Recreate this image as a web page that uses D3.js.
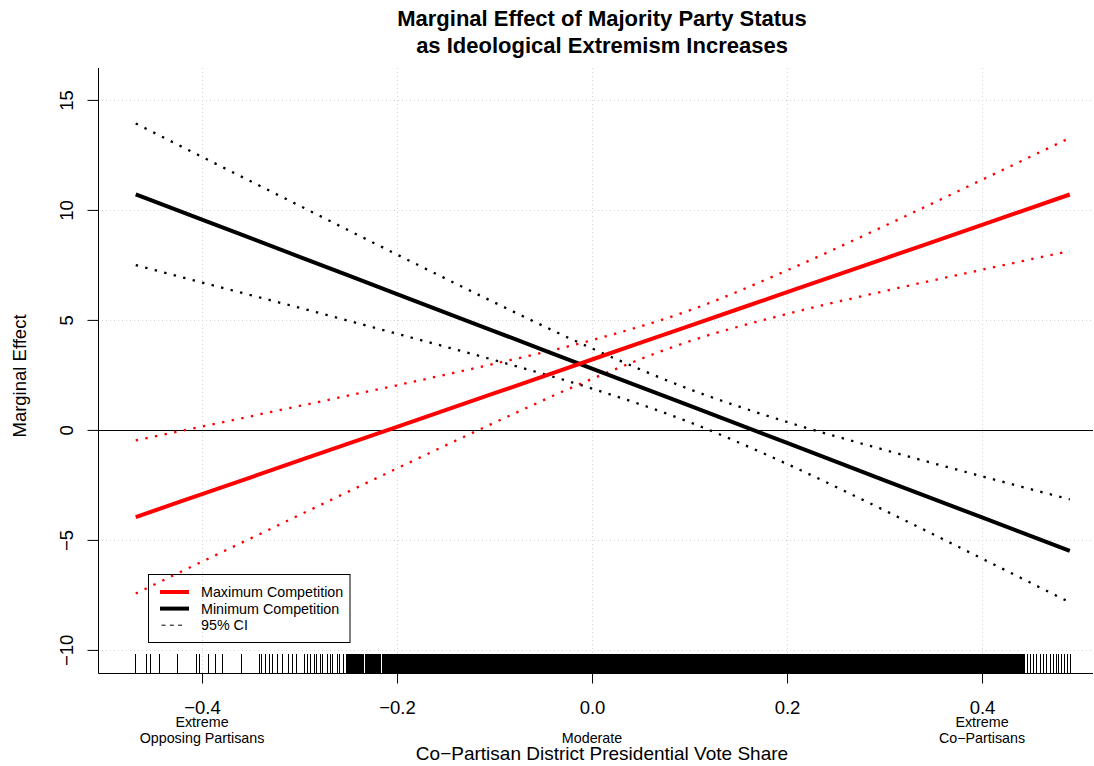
<!DOCTYPE html>
<html>
<head>
<meta charset="utf-8">
<script src="https://cdn.jsdelivr.net/npm/d3@7"></script>
<style>
  html, body { margin: 0; padding: 0; background: #fff; }
  svg { display: block; font-family: "Liberation Sans", Arial, Helvetica, sans-serif; }
</style>
</head>
<body>
<svg id="chart" width="1094" height="766"></svg>
<script>
// ---------------- data ----------------
const titleLines = ["Marginal Effect of Majority Party Status", "as Ideological Extremism Increases"];
const xLabel = "Co\u2212Partisan District Presidential Vote Share";
const yLabel = "Marginal Effect";

const xTicks = [-0.4, -0.2, 0.0, 0.2, 0.4];
const yTicks = [-10, -5, 0, 5, 10, 15];
const xSubLabels = [
  { x: -0.4, top: "Extreme", bottom: "Opposing Partisans" },
  { x: 0.0, top: "", bottom: "Moderate" },
  { x: 0.4, top: "Extreme", bottom: "Co\u2212Partisans" }
];

// co-partisan district presidential vote share (evaluation points)
const voteShare = [-0.468, -0.4, -0.3, -0.2, -0.1, 0.0, 0.1, 0.2, 0.3, 0.4, 0.49];

// Maximum competition (red)
const maxME    = [-3.96, -2.92, -1.39, 0.14, 1.67, 3.20, 4.73, 6.26, 7.79, 9.32, 10.70];
const maxUpper = [-0.48, 0.15, 1.09, 2.03, 3.01, 4.08, 5.43, 7.25, 9.27, 11.37, 13.27];
const maxLower = [-7.44, -5.99, -3.87, -1.75, 0.33, 2.32, 4.03, 5.27, 6.31, 7.28, 8.13];

// Minimum competition (black)
const minME    = [10.71, 9.56, 7.87, 6.17, 4.48, 2.79, 1.10, -0.59, -2.29, -3.98, -5.50];
const minUpper = [13.93, 12.41, 10.19, 7.97, 5.79, 3.70, 1.85, 0.36, -0.91, -2.11, -3.16];
const minLower = [7.49, 6.70, 5.55, 4.37, 3.17, 1.88, 0.35, -1.55, -3.66, -5.85, -7.84];

// rug: observed vote shares (sparse tails)
const rugLeft = [-0.4680, -0.4574, -0.4530, -0.4434, -0.4253, -0.4059, -0.4026, -0.3938, -0.3867,
  -0.3792, -0.3593, -0.3412, -0.3385, -0.3354, -0.3313, -0.3277, -0.3224, -0.3179, -0.3115, -0.3077,
  -0.3036, -0.2944, -0.2920, -0.2892, -0.2851, -0.2824, -0.2790, -0.2762, -0.2715, -0.2687, -0.2659,
  -0.2612, -0.2585, -0.2551];
const rugRight = [0.4462, 0.4492, 0.4523, 0.4554, 0.4595, 0.4626, 0.4664, 0.4697, 0.4728, 0.4759,
  0.4783, 0.4817, 0.4841, 0.4872, 0.4903];
// rug: dense middle (in thousandths of vote share)
const rugDenseMilli = [
-252,-251,-250,-249,-248,-247,-246,-245,-244,-243,-242,-241,-240,-239,-238,-237,-236,-235,-234,-232,
-231,-230,-229,-228,-227,-226,-225,-224,-223,-222,-221,-220,-219,-218,-217,-215,-214,-213,-212,-211,
-210,-209,-208,-207,-206,-205,-204,-203,-202,-201,-200,-198,-197,-196,-195,-194,-193,-192,-191,-190,
-189,-188,-187,-186,-185,-184,-183,-182,-181,-180,-179,-178,-177,-176,-175,-174,-173,-172,-171,-170,
-169,-168,-167,-166,-165,-164,-163,-162,-161,-160,-159,-158,-157,-156,-155,-154,-153,-152,-151,-150,
-149,-148,-147,-146,-145,-144,-143,-142,-141,-140,-139,-138,-137,-136,-135,-134,-133,-132,-131,-130,
-129,-128,-127,-126,-125,-124,-123,-122,-121,-120,-119,-118,-117,-116,-115,-114,-113,-112,-111,-110,
-109,-108,-107,-106,-105,-104,-103,-102,-101,-100,-99,-98,-97,-96,-95,-94,-93,-92,-91,-90,
-89,-88,-87,-86,-85,-84,-83,-82,-81,-80,-79,-78,-77,-76,-75,-74,-73,-72,-71,-70,
-69,-68,-67,-66,-65,-64,-63,-62,-61,-60,-59,-58,-57,-56,-55,-54,-53,-52,-51,-50,
-49,-48,-47,-46,-45,-44,-43,-42,-41,-40,-39,-38,-37,-36,-35,-34,-33,-32,-31,-30,
-29,-28,-27,-26,-25,-24,-23,-22,-21,-20,-19,-18,-17,-16,-15,-14,-13,-12,-11,-10,
-9,-8,-7,-6,-5,-4,-3,-2,-1,0,1,2,3,4,5,6,7,8,9,10,
11,12,13,14,15,16,17,18,19,20,21,22,23,24,25,26,27,28,29,30,
31,32,33,34,35,36,37,38,39,40,41,42,43,44,45,46,47,48,49,50,
51,52,53,54,55,56,57,58,59,60,61,62,63,64,65,66,67,68,69,70,
71,72,73,74,75,76,77,78,79,80,81,82,83,84,85,86,87,88,89,90,
91,92,93,94,95,96,97,98,99,100,101,102,103,104,105,106,107,108,109,110,
111,112,113,114,115,116,117,118,119,120,121,122,123,124,125,126,127,128,129,130,
131,132,133,134,135,136,137,138,139,140,141,142,143,144,145,146,147,148,149,150,
151,152,153,154,155,156,157,158,159,160,161,162,163,164,165,166,167,168,169,170,
171,172,173,174,175,176,177,178,179,180,181,182,183,184,185,186,187,188,189,190,
191,192,193,194,195,196,197,198,199,200,201,202,203,204,205,206,207,208,209,210,
211,212,213,214,215,216,217,218,219,220,221,222,223,224,225,226,227,228,229,230,
231,232,233,234,235,236,237,238,239,240,241,242,243,244,245,246,247,248,249,250,
251,252,253,254,255,256,257,258,259,260,261,262,263,264,265,266,267,268,269,270,
271,272,273,274,275,276,277,278,279,280,281,282,283,284,285,286,287,288,289,290,
291,292,293,294,295,296,297,298,299,300,301,302,303,304,305,306,307,308,309,310,
311,312,313,314,315,316,317,318,319,320,321,322,323,324,325,326,327,328,329,330,
331,332,333,334,335,336,337,338,339,340,341,342,343,344,345,346,347,348,349,350,
351,352,353,354,355,356,357,358,359,360,361,362,363,364,365,366,367,368,369,370,
371,372,373,374,375,376,377,378,379,380,381,382,383,384,385,386,387,388,389,390,
391,392,393,394,395,396,397,398,399,400,401,402,403,404,405,406,407,408,409,410,
411,412,413,414,415,416,417,418,419,420,421,422,423,424,425,426,427,428,429,430,
431,432,433,434,435,436,437,438,439,440,441,442,443,444
];

const legendLabels = ["Maximum Competition", "Minimum Competition", "95% CI"];

// ---------------- drawing ----------------
const svg = d3.select("#chart");
const plot = { left: 98, right: 1093, top: 68, bottom: 673 };

const x = d3.scaleLinear().domain([-0.5067, 0.5138]).range([plot.left, plot.right]);
const y = d3.scaleLinear().domain([-11.05, 16.45]).range([plot.bottom, plot.top]);

const font = '"Liberation Sans", Arial, Helvetica, sans-serif';

// grid
const grid = svg.append("g").attr("stroke", "#d3d3d3").attr("stroke-width", 1).attr("stroke-dasharray", "1,3");
grid.selectAll("line.gx").data(xTicks).join("line")
  .attr("x1", d => Math.round(x(d)) + 0.5).attr("x2", d => Math.round(x(d)) + 0.5)
  .attr("y1", plot.top).attr("y2", plot.bottom);
grid.selectAll("line.gy").data(yTicks.filter(d => d !== 0)).join("line")
  .attr("y1", d => Math.round(y(d)) + 0.5).attr("y2", d => Math.round(y(d)) + 0.5)
  .attr("x1", plot.left).attr("x2", plot.right);

// zero reference line
svg.append("line")
  .attr("x1", plot.left).attr("x2", plot.right)
  .attr("y1", Math.round(y(0)) + 0.5).attr("y2", Math.round(y(0)) + 0.5)
  .attr("stroke", "#000").attr("stroke-width", 1);

// lines
const pts = vals => voteShare.map((v, i) => [v, vals[i]]);
const line = d3.line().x(d => x(d[0])).y(d => y(d[1])).curve(d3.curveMonotoneX);

const ciStyle = { width: 2.3, dash: "2.4,7.4" };
[[minUpper, "#000"], [minLower, "#000"], [maxUpper, "#ff0000"], [maxLower, "#ff0000"]].forEach(([vals, col]) => {
  svg.append("path").attr("d", line(pts(vals)))
    .attr("fill", "none").attr("stroke", col)
    .attr("stroke-width", ciStyle.width).attr("stroke-dasharray", ciStyle.dash);
});
svg.append("path").attr("d", line(pts(minME)))
  .attr("fill", "none").attr("stroke", "#000").attr("stroke-width", 4);
svg.append("path").attr("d", line(pts(maxME)))
  .attr("fill", "none").attr("stroke", "#ff0000").attr("stroke-width", 4);

// rug
const rugValues = rugLeft.concat(rugDenseMilli.map(d => d / 1000), rugRight);
svg.append("g").attr("shape-rendering", "crispEdges")
  .selectAll("line").data(rugValues).join("line")
  .attr("x1", d => x(d)).attr("x2", d => x(d))
  .attr("y1", plot.bottom - 19).attr("y2", plot.bottom)
  .attr("stroke", "#000").attr("stroke-width", 1);

// box (L shape)
svg.append("path")
  .attr("d", `M${plot.left + 0.5},${plot.top}V${plot.bottom + 0.5}H${plot.right}`)
  .attr("fill", "none").attr("stroke", "#000").attr("stroke-width", 1);

// x axis
const xAxis = svg.append("g").attr("transform", `translate(0,${plot.bottom + 0.5})`)
  .call(d3.axisBottom(x).tickValues(xTicks).tickSize(10).tickPadding(0)
    .tickFormat(d => d3.format(".1f")(d).replace("-", "\u2212")));
xAxis.select(".domain").remove();
xAxis.selectAll(".tick line").attr("stroke", "#000");
xAxis.selectAll(".tick text").attr("y", 40).attr("dy", 0)
  .attr("font-size", 18.5).attr("font-family", font).attr("fill", "#000");

// y axis
const yAxis = svg.append("g").attr("transform", `translate(${plot.left + 0.5},0)`)
  .call(d3.axisLeft(y).tickValues(yTicks).tickSize(11)
    .tickFormat(d => d3.format("d")(d).replace("-", "\u2212")));
yAxis.select(".domain").remove();
yAxis.selectAll(".tick line").attr("stroke", "#000");
yAxis.selectAll(".tick text")
  .attr("x", 0).attr("y", 0).attr("dy", 0)
  .attr("transform", "translate(-26,0) rotate(-90)")
  .attr("text-anchor", "middle")
  .attr("font-size", 18.5).attr("font-family", font).attr("fill", "#000");

// x sub labels
const sub = svg.append("g").attr("font-size", 14.3).attr("text-anchor", "middle").attr("fill", "#000");
sub.selectAll("text.t").data(xSubLabels).join("text").attr("class", "t")
  .attr("x", d => x(d.x)).attr("y", 727).text(d => d.top);
sub.selectAll("text.b").data(xSubLabels).join("text").attr("class", "b")
  .attr("x", d => x(d.x)).attr("y", 743).text(d => d.bottom);

// axis labels
svg.append("text").attr("x", 602).attr("y", 760).attr("text-anchor", "middle")
  .attr("font-size", 19).text(xLabel);
svg.append("text").attr("transform", "translate(26,376) rotate(-90)").attr("text-anchor", "middle")
  .attr("font-size", 18.5).text(yLabel);

// title
svg.append("g").selectAll("text").data(titleLines).join("text")
  .attr("x", 602).attr("y", (d, i) => 26 + i * 27)
  .attr("text-anchor", "middle").attr("font-weight", "bold").attr("font-size", 22)
  .text(d => d);

// legend
const lg = svg.append("g");
lg.append("rect").attr("x", 148.5).attr("y", 574.5).attr("width", 201.5).attr("height", 68)
  .attr("fill", "none").attr("stroke", "#000").attr("stroke-width", 1);
const legendStyles = [
  { color: "#ff0000", width: 4, dash: null },
  { color: "#000", width: 4, dash: null },
  { color: "#000", width: 1, dash: "4,4.3" }
];
legendLabels.forEach((lab, i) => {
  const cy = 592 + i * 16.6;
  const s = legendStyles[i];
  lg.append("line").attr("x1", s.dash ? 161.5 : 160).attr("x2", s.dash ? 183 : 189)
    .attr("y1", cy).attr("y2", cy)
    .attr("stroke", s.color).attr("stroke-width", s.width)
    .attr("stroke-dasharray", s.dash);
  lg.append("text").attr("x", 201).attr("y", cy + 5).attr("font-size", 14.3).text(lab);
});
</script>
</body>
</html>
